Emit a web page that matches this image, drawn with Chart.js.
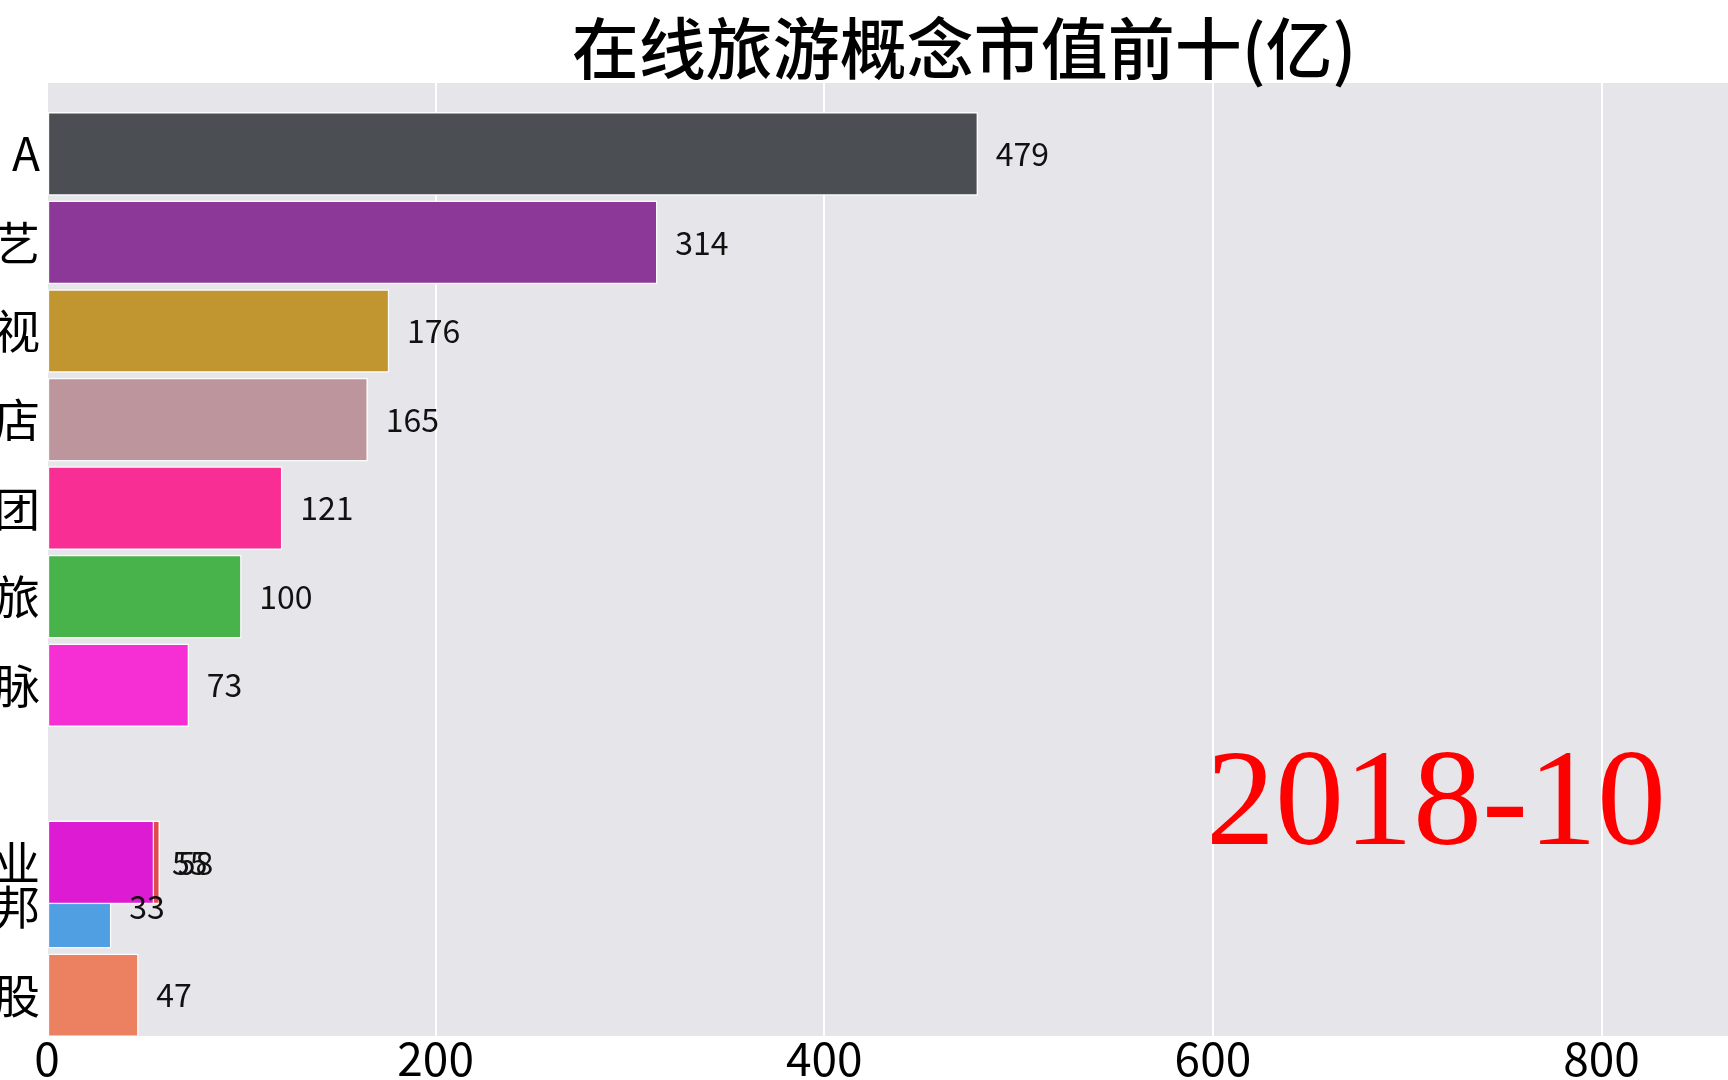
<!DOCTYPE html>
<html>
<head>
<meta charset="utf-8">
<script src="https://cdn.jsdelivr.net/npm/chart.js@4/dist/chart.umd.min.js"></script>
<style>
    html, body { margin: 0; padding: 0; overflow: hidden; background: #ffffff; }
    #wrap { width: 1928px; height: 1080px; }
</style>
</head>
<body>
<div id="wrap"><canvas id="myChart" width="1928" height="1080"></canvas></div>
<script>
// Données (ordre = ordre de dessin)
const names = ['A', '艺', '视', '店', '团', '旅', '脉', '', '邦', '股', '业'];
const values = [479, 314, 176, 165, 121, 100, 73, 58, 33, 47, 55];
const ranks = [1, 2, 3, 4, 5, 6, 7, 9, 9.5, 10.5, 9];
const xTicks = [0, 200, 400, 600, 800];
const dateLabel = '2018-10';
const chartTitle = '在线旅游概念市值前十(亿)';

// Couleurs des barres
const colors = ['#4b4f53', '#8b3898', '#c1952f', '#bd959d', '#f82e95', '#47b34a',
                '#f52fd3', '#e04a4a', '#509fe2', '#eb8161', '#dd1bd3'];

const fontFamily = '"Noto Sans CJK SC", "Noto Sans", sans-serif';

// Fond gris de la zone de tracé
const plotBackground = {
    id: 'plotBackground',
    beforeDraw(chart) {
        const a = chart.chartArea;
        const ctx = chart.ctx;
        ctx.save();
        ctx.fillStyle = '#e6e6ea';
        ctx.fillRect(a.left, a.top, a.right - a.left, a.bottom - a.top);
        ctx.restore();
    }
};

// Valeurs au bout des barres + date
const barValues = {
    id: 'barValues',
    afterDatasetsDraw(chart) {
        const ctx = chart.ctx;
        const meta = chart.getDatasetMeta(0);
        ctx.save();
        ctx.fillStyle = '#111111';
        ctx.font = '32px ' + fontFamily;
        ctx.textAlign = 'left';
        ctx.textBaseline = 'middle';
        meta.data.forEach((bar, i) => {
            ctx.fillText(values[i], bar.x + 18, bar.y);
        });

        const a = chart.chartArea;
        ctx.fillStyle = '#ff0000';
        ctx.font = '138px "Liberation Serif", "DejaVu Serif", serif';
        ctx.textAlign = 'right';
        ctx.textBaseline = 'alphabetic';
        ctx.fillText(dateLabel, a.right - 262, a.bottom - 192);
        ctx.restore();
    }
};

let ctx = document.getElementById('myChart').getContext('2d');
let myChart = new Chart(ctx, {
    type: 'bar',
    data: {
        datasets: [{
            data: ranks.map((r, i) => ({ x: values[i], y: r })),
            backgroundColor: colors,
            borderColor: 'rgba(255, 255, 255, 0.85)',
            borderWidth: 1.5,
            borderSkipped: false,
            barThickness: 83
        }]
    },
    options: {
        indexAxis: 'y',
        responsive: false,
        animation: false,
        layout: { padding: 0 },
        plugins: {
            legend: { display: false },
            tooltip: { enabled: false },
            title: {
                display: true,
                text: chartTitle,
                color: '#000000',
                font: { family: fontFamily, size: 67, weight: 500, lineHeight: 1 },
                padding: { top: 15, bottom: 1 }
            }
        },
        scales: {
            x: {
                type: 'linear',
                min: 0,
                max: 968,
                afterBuildTicks: scale => {
                    scale.ticks = xTicks.map(v => ({ value: v }));
                },
                afterFit: scale => { scale.height = 44; },
                grid: { color: '#ffffff', lineWidth: 2, drawTicks: false },
                border: { display: false },
                ticks: {
                    color: '#000000',
                    padding: 0,
                    font: { family: fontFamily, size: 46, lineHeight: 1 }
                }
            },
            y: {
                type: 'linear',
                reverse: true,
                offset: false,
                min: 0.2,
                max: 10.96,
                afterBuildTicks: scale => {
                    scale.ticks = ranks.filter((r, i) => names[i] !== '').map(r => ({ value: r }));
                },
                afterFit: scale => { scale.width = 47; },
                grid: { display: false, drawTicks: false },
                border: { display: false },
                ticks: {
                    color: '#000000',
                    padding: 7,
                    font: { family: fontFamily, size: 46 },
                    callback: function(value) {
                        const i = ranks.findIndex((r, k) => r === value && names[k] !== '');
                        return i >= 0 ? names[i] : '';
                    }
                }
            }
        }
    },
    plugins: [plotBackground, barValues]
});
</script>
</body>
</html>
